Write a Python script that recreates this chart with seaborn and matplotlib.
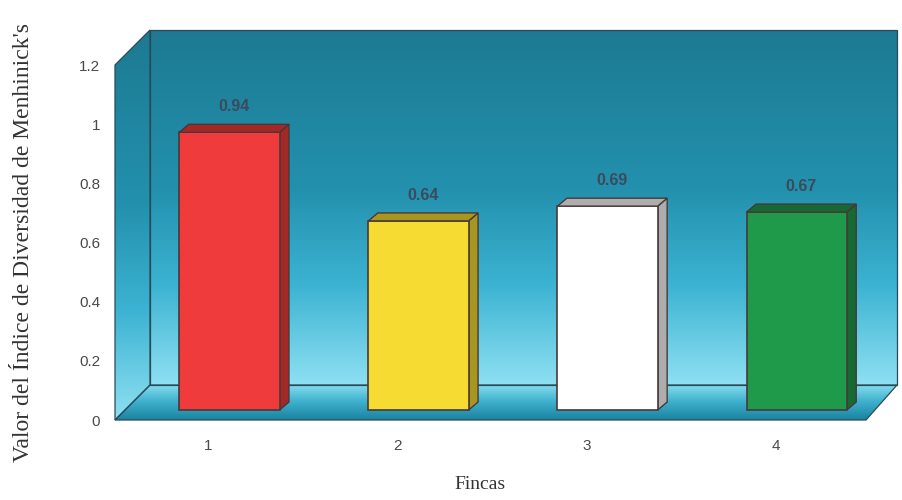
import numpy as np
import pandas as pd
import matplotlib
matplotlib.use('Agg')
import matplotlib.pyplot as plt
import matplotlib.transforms as mtransforms
from matplotlib.colors import LinearSegmentedColormap
from matplotlib.patches import Polygon
import seaborn as sns

# Data
fincas = ['1', '2', '3', '4']
menhinick = [0.94, 0.64, 0.69, 0.67]
bar_colors = ['#ef3b3b', '#f6dc32', '#ffffff', '#1f9a4a']
y_ticks = [0, 0.2, 0.4, 0.6, 0.8, 1.0, 1.2]
y_tick_labels = ['0', '0.2', '0.4', '0.6', '0.8', '1', '1.2']

sns.set_style("white")
plt.rcParams['font.family'] = ['Liberation Sans', 'DejaVu Sans']

df = pd.DataFrame({'Finca': fincas, 'Menhinick': menhinick})

W, H = 902, 500
fig = plt.figure(figsize=(W / 100, H / 100), dpi=100)

# ---------------------------------------------------------------
# background "3D box" (wall, left side, floor) in pixel coordinates
# ---------------------------------------------------------------
bg = fig.add_axes([0, 0, 1, 1], zorder=0)
bg.set_xlim(0, W)
bg.set_ylim(H, 0)
bg.axis('off')

edge = '#2a4a5a'
wall_pts = [(150, 30), (897, 30), (897, 385), (150, 385)]
side_pts = [(115, 65), (150, 30), (150, 385), (115, 420)]
floor_pts = [(115, 420), (150, 385), (897, 385), (866, 420)]

wall_cmap = LinearSegmentedColormap.from_list(
    'wall', [(0.0, '#1d7a92'), (0.45, '#2391ae'), (0.72, '#3cb3d2'), (1.0, '#8ee0f2')])
floor_cmap = LinearSegmentedColormap.from_list(
    'floor', [(0.0, '#86dcef'), (0.45, '#40b2cf'), (1.0, '#1a82a0')])
grad = np.linspace(0, 1, 256).reshape(-1, 1)

for pts, cmap, ext in [(wall_pts, wall_cmap, [150, 897, 385, 30]),
                       (side_pts, wall_cmap, [115, 150, 420, 30]),
                       (floor_pts, floor_cmap, [115, 897, 420, 385])]:
    poly = Polygon(pts, closed=True, facecolor='none', edgecolor=edge, linewidth=0.9, zorder=2)
    bg.add_patch(poly)
    im = bg.imshow(grad, cmap=cmap, origin='upper', aspect='auto', extent=ext, zorder=1)
    im.set_clip_path(poly)

# ---------------------------------------------------------------
# main axes with the bars
# ---------------------------------------------------------------
ax = fig.add_axes([150 / W, 80 / H, 745 / W, 390 / H], zorder=1)
ax.patch.set_alpha(0)

xmin, xmax = -0.42, 3.52
ymin, ymax = 0, 1.32

sns.barplot(data=df, x='Finca', y='Menhinick', hue='Finca', palette=bar_colors,
            legend=False, width=0.53, edgecolor='#4a3838', linewidth=1.2,
            saturation=1, ax=ax, zorder=3)
bars = [b for c in ax.containers for b in c]

# bars stand a little behind the front edge of the floor
lift = mtransforms.ScaledTranslation(0, 10 / 100, fig.dpi_scale_trans)
data_lift = ax.transData + lift

# depth faces for each bar, taken from the bar patches
dx, dy = 0.05, 0.027
for bar, val in zip(bars, menhinick):
    bar.set_transform(data_lift)
    x0 = bar.get_x()
    x1 = x0 + bar.get_width()
    h = bar.get_height()
    dark = tuple(c * 0.68 for c in bar.get_facecolor()[:3])
    top = Polygon([(x0, h), (x0 + dx, h + dy), (x1 + dx, h + dy), (x1, h)],
                  closed=True, facecolor=dark, edgecolor='#4a3838', linewidth=1.0,
                  zorder=3, transform=data_lift)
    rside = Polygon([(x1, 0), (x1 + dx, dy), (x1 + dx, h + dy), (x1, h)],
                    closed=True, facecolor=dark, edgecolor='#4a3838', linewidth=1.0,
                    zorder=2.9, transform=data_lift)
    ax.add_patch(rside)
    ax.add_patch(top)
    ax.text(x0 + bar.get_width() / 2 + dx / 2, val + 0.12, f'{val:.2f}',
            ha='center', va='center', fontsize=11.5, fontweight='bold',
            color='#3c4a5e', zorder=4)

ax.set_xlim(xmin, xmax)
ax.set_ylim(ymin, ymax)
ax.set_yticks(y_ticks)
ax.set_yticklabels(y_tick_labels)
ax.tick_params(axis='y', length=0, pad=36, labelsize=11, labelcolor='#4a4a4a')
ax.tick_params(axis='x', length=0, pad=14, labelsize=11, labelcolor='#4a4a4a')
shift = mtransforms.ScaledTranslation(-21 / 100, 0, fig.dpi_scale_trans)
for lab in ax.get_xticklabels():
    lab.set_transform(lab.get_transform() + shift)

for s in ax.spines.values():
    s.set_visible(False)

ax.set_xlabel('Fincas', fontsize=14, family=['Liberation Serif', 'DejaVu Serif'],
              color='#333333')
ax.set_ylabel("Valor del Índice de Diversidad de Menhinick's", fontsize=17,
              family=['Liberation Serif', 'DejaVu Serif'], color='#333333')
ax.xaxis.set_label_coords((480 - 150) / 745, (420 - 476) / 390)
ax.yaxis.set_label_coords((34 - 150) / 745, (420 - 243) / 390)

fig.savefig('out.png', dpi=100, facecolor='white')
